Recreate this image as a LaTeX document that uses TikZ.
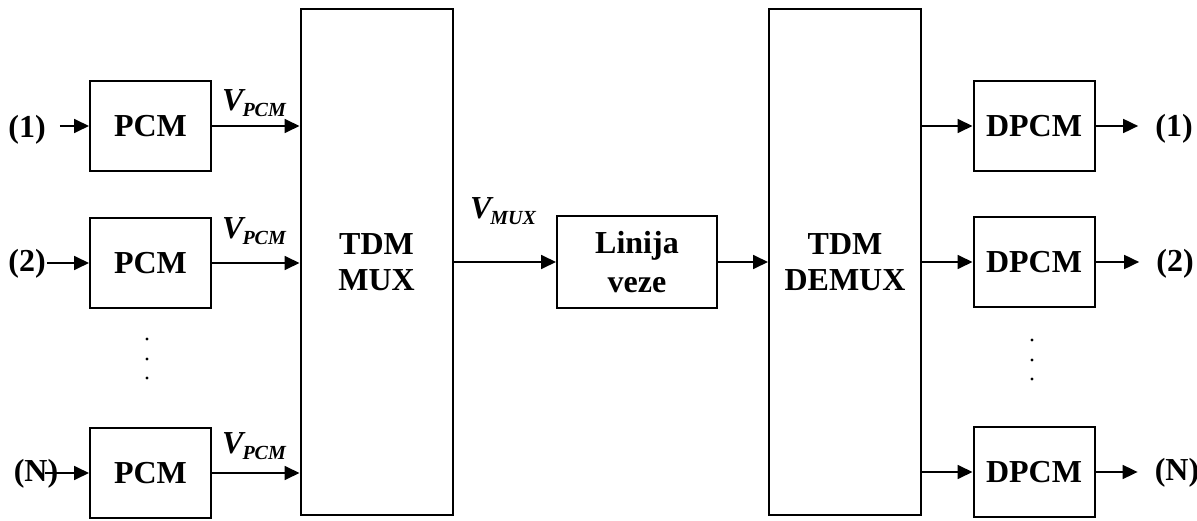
\documentclass[tikz,border=0pt]{standalone}
\usepackage{fontspec}
\setmainfont{Liberation Serif}
\usetikzlibrary{arrows.meta}
\newcommand{\bigfont}{\fontsize{32}{36}\selectfont\bfseries}
\newcommand{\vsig}[1]{\textbf{\textit{V\kern-1pt\raisebox{-6pt}{\fontsize{20}{20}\selectfont #1}}}}
\tikzset{
  blk/.style={draw, line width=2pt, minimum width=121pt, minimum height=90pt,
    inner sep=0pt, align=center, font=\bigfont},
  tallblk/.style={blk, minimum width=152pt, minimum height=506pt},
  arr/.style={line width=1.8pt, -{Triangle[length=15pt,width=14pt]}},
  lbl/.style={inner sep=0pt, font=\bigfont},
  sig/.style={inner sep=0pt, font=\fontsize{32}{36}\selectfont}
}

\begin{document}
\begin{tikzpicture}[x=1pt, y=-1pt]
\useasboundingbox (0,0) rectangle (1197,521);
% blocks
\node[blk] (pcm1) at (150.5,126) {PCM};
\node[blk] (pcm2) at (150.5,263) {PCM};
\node[blk] (pcmn) at (150.5,473) {PCM};
\node[tallblk] (mux) at (376.5,262) {TDM\\MUX};
\node[blk, minimum width=160pt, minimum height=92pt,
  font=\fontsize{32}{39}\selectfont\bfseries] (veza) at (637,262) {Linija\\veze};
\node[tallblk] (demux) at (845,262) {TDM\\DEMUX};
\node[blk] (dpcm1) at (1034,126) {DPCM};
\node[blk] (dpcm2) at (1034,262) {DPCM};
\node[blk] (dpcmn) at (1034,472) {DPCM};
% inputs and outputs
\node[lbl] (in1) at (27,130) {(1)};
\node[lbl] (in2) at (27,264) {(2)};
\node[lbl] (inn) at (36,474) {(N)};
\node[lbl] (out1) at (1174,129) {(1)};
\node[lbl] (out2) at (1175,264) {(2)};
\node[lbl] (outn) at (1177,473) {(N)};
\draw[arr, shorten <=14pt] (in1.east |- pcm1.west) -- (pcm1.west);
\draw[arr, shorten <=1pt] (in2.east |- pcm2.west) -- (pcm2.west);
\draw[arr, shorten <=-13pt] (inn.east |- pcmn.west) -- (pcmn.west);
\draw[arr, shorten >=17pt] (dpcm1.east) -- (dpcm1.east -| out1.west);
\draw[arr, shorten >=17pt] (dpcm2.east) -- (dpcm2.east -| out2.west);
\draw[arr, shorten >=17pt] (dpcmn.east) -- (dpcmn.east -| outn.west);
% mux side
\draw[arr] (pcm1.east) -- (pcm1.east -| mux.west);
\draw[arr] (pcm2.east) -- (pcm2.east -| mux.west);
\draw[arr] (pcmn.east) -- (pcmn.east -| mux.west);
\node[sig] (v1) at (254,103) {\vsig{PCM}};
\node[sig] (v2) at (254,231) {\vsig{PCM}};
\node[sig] (vn) at (254,446) {\vsig{PCM}};
\draw[arr] (mux.east |- veza.west) -- (veza.west);
\node[sig] (vmux) at (503,211) {\vsig{MUX}};
\draw[arr] (veza.east) -- (veza.east -| demux.west);
% demux side
\draw[arr] (demux.east |- dpcm1.west) -- (dpcm1.west);
\draw[arr] (demux.east |- dpcm2.west) -- (dpcm2.west);
\draw[arr] (demux.east |- dpcmn.west) -- (dpcmn.west);
% dots
\foreach \y in {339,359,378}{
  \fill (147,\y) circle (1.7pt);
  \fill (1032,\y+1) circle (1.7pt);
}
\end{tikzpicture}
\end{document}
